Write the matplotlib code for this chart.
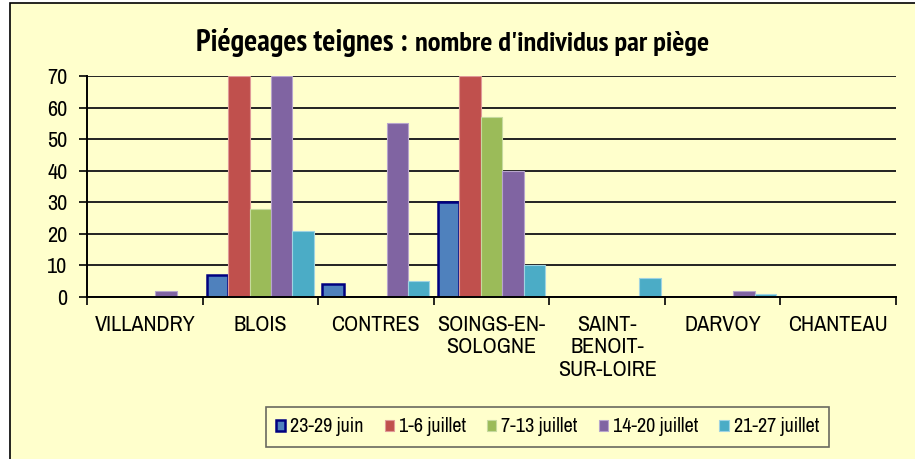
import matplotlib
matplotlib.use("Agg")
import matplotlib.pyplot as plt
from matplotlib.patches import Rectangle
from matplotlib import font_manager
import numpy as np

categories = ["VILLANDRY", "BLOIS", "CONTRES", "SOINGS-EN-\nSOLOGNE",
              "SAINT-\nBENOIT-\nSUR-LOIRE", "DARVOY", "CHANTEAU"]
series_names = ["23-29 juin", "1-6 juillet", "7-13 juillet", "14-20 juillet", "21-27 juillet"]
s_23_29_juin = [0, 7, 4, 30, 0, 0, 0]
s_1_6_juillet = [0, 70, 0, 70, 0, 0, 0]
s_7_13_juillet = [0, 28, 0, 57, 0, 0, 0]
s_14_20_juillet = [2, 70, 55, 40, 0, 2, 0]
s_21_27_juillet = [0, 21, 5, 10, 6, 1, 0]
series = [s_23_29_juin, s_1_6_juillet, s_7_13_juillet, s_14_20_juillet, s_21_27_juillet]
y_ticks = [0, 10, 20, 30, 40, 50, 60, 70]
title_main = "Piégeages teignes :"
title_sub = "nombre d'individus par piège"

colors = ["#4F81BD", "#C0504D", "#9BBB59", "#8064A2", "#4BACC6"]
edges = ["#000080", "#E09A98", "#C6DA9E", "#B7A5CC", "#9FD3E2"]
edge_w = [1.8, 0.8, 0.8, 0.8, 0.8]

cands = ["Liberation Sans Narrow", "Arial Narrow", "Archivo Narrow", "PT Sans Narrow",
         "Roboto Condensed", "Liberation Sans"]
fonts = font_manager.fontManager.ttflist
names = {f.name for f in fonts}
fam = next((c for c in cands if c in names), "Liberation Sans")
bold_names = {f.name for f in fonts if (isinstance(f.weight, int) and f.weight >= 600)
              or f.weight in ("bold", "heavy", "black", "semibold", "demibold")}
bfam = next((c for c in cands if c in bold_names), "Liberation Sans")
plt.rcParams['font.family'] = [fam, "DejaVu Sans"]

W, H = 915, 459
fig = plt.figure(figsize=(W / 100, H / 100), dpi=100)
fig.patch.set_facecolor("white")
fig.patches.append(Rectangle((10 / W, -0.1), 1.0, 1.1 - 3 / H, transform=fig.transFigure,
                             facecolor="#FFFFCC", edgecolor="black", linewidth=1.2, zorder=-5))

ax = fig.add_axes([87 / W, 1 - 297 / H, (896 - 87) / W, (297 - 76) / H])
ax.set_facecolor("#FFFFCC")
ax.patch.set_alpha(0)

x = np.arange(len(categories))
bw = 0.185
for i, vals in enumerate(series):
    ax.bar(x + (i - 2) * bw, vals, width=bw, color=colors[i], edgecolor=edges[i],
           linewidth=edge_w[i], label=series_names[i], zorder=3)

ax.set_xlim(-0.5, len(categories) - 0.5)
ax.set_ylim(0, 70)
ax.set_yticks(y_ticks)
ax.set_yticklabels([str(v) for v in y_ticks], fontsize=16)
ax.yaxis.grid(True, color="#222222", linewidth=1.4, zorder=1)
ax.set_axisbelow(True)
ax.set_xticks(x)
ax.set_xticklabels(categories, fontsize=16, linespacing=1.15, va="top")
ax.tick_params(axis="x", length=0, pad=13)
ax.set_xticks(np.arange(-0.5, len(categories), 1.0), minor=True)
ax.tick_params(axis="x", which="minor", length=6, width=1.2, color="black")
ax.tick_params(axis="y", length=6, width=1.2, pad=8, color="black")
for s in ["top", "right"]:
    ax.spines[s].set_visible(False)
for s in ["left", "bottom"]:
    ax.spines[s].set_color("black")
    ax.spines[s].set_linewidth(1.4)
    ax.spines[s].set_zorder(4)

leg = fig.legend(loc="center", bbox_to_anchor=(547.5 / W, 1 - 427 / H), ncol=5,
                 fontsize=14.5, frameon=True, fancybox=False, edgecolor="#444444",
                 facecolor="#FFFFCC", handlelength=0.45, handleheight=0.45,
                 handletextpad=0.25, columnspacing=1.05, borderpad=0.5)
leg.get_frame().set_linewidth(1.2)

# Title in two parts; fit sizes to the reference widths
t1 = fig.text(196 / W, 1 - 51 / H, title_main, fontsize=18, fontweight="bold",
              family=[bfam, "DejaVu Sans"], ha="left", va="baseline")
t2 = fig.text(0.5, 1 - 51 / H, title_sub, fontsize=14, fontweight="bold",
              family=[bfam, "DejaVu Sans"], ha="left", va="baseline")
fig.canvas.draw()
r = fig.canvas.get_renderer()
w1 = t1.get_window_extent(r).width
t1.set_fontsize(min(26, 18 * 212 / w1))
w2 = t2.get_window_extent(r).width
t2.set_fontsize(min(22, 14 * 295 / w2))
fig.canvas.draw()
bb = t1.get_window_extent(r)
t2.set_x((bb.x1 + 8) / W)

fig.savefig("out.png", dpi=100, facecolor="white")
